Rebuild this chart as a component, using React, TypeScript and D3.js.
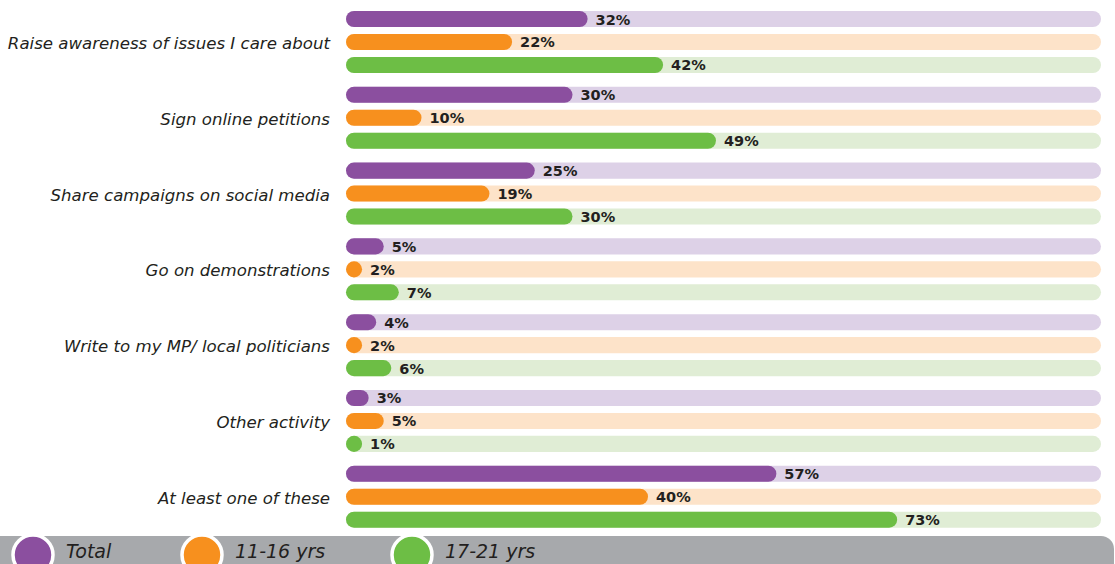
import React from "react";
import * as d3 from "d3";

const categories = [
  "Raise awareness of issues I care about",
  "Sign online petitions",
  "Share campaigns on social media",
  "Go on demonstrations",
  "Write to my MP/ local politicians",
  "Other activity",
  "At least one of these",
];
const seriesNames = ["Total", "11-16 yrs", "17-21 yrs"];
const totalValues = [32, 30, 25, 5, 4, 3, 57];
const age1116Values = [22, 10, 19, 2, 2, 5, 40];
const age1721Values = [42, 49, 30, 7, 6, 1, 73];
const seriesValues = [totalValues, age1116Values, age1721Values];
const barColors = ["#8b4f9f", "#f7901e", "#6dbe45"];
const trackColors = ["#ddd1e7", "#fde3c9", "#e0edd5"];

const W = 1115;
const H = 564;
const FONT = "'DejaVu Sans', Verdana, sans-serif";

export default function App() {
  const x = d3.scaleLinear().domain([0, 100]).range([346, 1101]);
  const y = d3.scaleBand<string>().domain(categories).range([4.1, 534.6]).paddingInner(0);
  const inner = d3
    .scaleBand<string>()
    .domain(seriesNames)
    .range([0, y.bandwidth()])
    .paddingInner(0.3)
    .paddingOuter(0.3);
  const bh = inner.bandwidth();
  const legendX = [33, 202, 412];

  return (
    <svg width={W} height={H} style={{ position: "absolute", left: 0, top: 0, background: "#fff" }}>
      {categories.map((c, ci) => (
        <g key={c}>
          <text
            x={330}
            y={(y(c) as number) + y.bandwidth() / 2 + 1.5}
            textAnchor="end"
            dominantBaseline="central"
            fontFamily={FONT}
            fontStyle="italic"
            fontSize={16.6}
            fill="#231f20"
          >
            {c}
          </text>
          {seriesNames.map((s, si) => {
            const v = seriesValues[si][ci];
            const yy = (y(c) as number) + (inner(s) as number);
            const w = Math.max(x(v) - x(0), bh);
            return (
              <g key={s}>
                <rect x={x(0)} y={yy} width={x(100) - x(0)} height={bh} rx={bh / 2} fill={trackColors[si]} />
                <rect x={x(0)} y={yy} width={w} height={bh} rx={bh / 2} fill={barColors[si]} />
                <text
                  x={x(0) + w + 8}
                  y={yy + bh / 2 + 0.5}
                  dominantBaseline="central"
                  fontFamily={FONT}
                  fontWeight="bold"
                  fontSize={14.5}
                  fill="#231f20"
                >
                  {v}%
                </text>
              </g>
            );
          })}
        </g>
      ))}
      <rect x={-20} y={536} width={1134} height={50} rx={13} fill="#a7a9ac" />
      {seriesNames.map((s, si) => (
        <g key={s}>
          <circle cx={legendX[si]} cy={555} r={20} fill={barColors[si]} stroke="#fff" strokeWidth={3.5} />
          <text
            x={legendX[si] + 33}
            y={551}
            dominantBaseline="central"
            fontFamily={FONT}
            fontStyle="italic"
            fontSize={19}
            fill="#231f20"
          >
            {s}
          </text>
        </g>
      ))}
    </svg>
  );
}
